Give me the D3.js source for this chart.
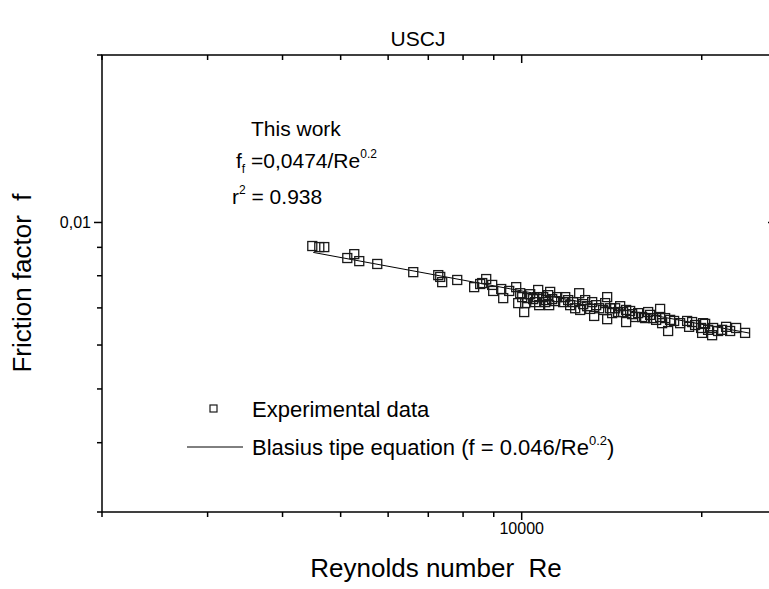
<!DOCTYPE html>
<html>
<head>
<meta charset="utf-8">
<script src="https://cdn.jsdelivr.net/npm/d3@7"></script>
<style>
  html, body { margin: 0; padding: 0; background: #fff; }
  svg { display: block; }
  text { font-family: "Liberation Sans", Arial, sans-serif; fill: #000; }
</style>
</head>
<body>
<svg id="chart" width="769" height="589"></svg>
<script>
// Experimental friction factor measurements (Reynolds number, friction factor)
const reynolds = [
  4484, 4606, 4695, 5129, 5268, 5370, 5754, 6607, 7273, 7328,
  7384, 7822, 8348, 8543, 8610, 8743, 8946, 8981, 9261, 9333,
  9550, 9810, 9962, 10039, 9886, 10155, 10116, 10351, 10471, 10633,
  10674, 10715, 10881, 11092, 11134, 11263, 11482, 11749, 11977, 12208,
  12494, 12303, 12542, 12785, 12882, 13132, 13233, 13490, 13804, 13911,
  13911, 14072, 14344, 14510, 14791, 14962, 14962, 15311, 15488, 15911,
  16281, 16095, 16596, 17047, 17047, 17179, 17715, 17989, 17579, 18909,
  19275, 19055, 20107, 20262, 19953, 20030, 20814, 20893, 21627, 21962,
  22823, 23624, 10233, 10552, 11007, 11177, 10965, 11393, 11840, 12069,
  12688, 13032, 13335, 13699, 14181, 14622, 15193, 15668, 16406, 16788,
  17378, 18408, 19498, 20496, 21297, 22303
];
const friction = [
  0.00905, 0.00901, 0.00901, 0.00861, 0.00875, 0.00850, 0.00840, 0.00812, 0.00802, 0.00796,
  0.00779, 0.00786, 0.00763, 0.00773, 0.00776, 0.00789, 0.00770, 0.00751, 0.00757, 0.00729,
  0.00751, 0.00763, 0.00744, 0.00732, 0.00714, 0.00714, 0.00688, 0.00741, 0.00726, 0.00732,
  0.00754, 0.00708, 0.00732, 0.00738, 0.00708, 0.00726, 0.00732, 0.00717, 0.00723, 0.00717,
  0.00744, 0.00699, 0.00694, 0.00723, 0.00705, 0.00717, 0.00677, 0.00699, 0.00714, 0.00732,
  0.00668, 0.00699, 0.00699, 0.00688, 0.00688, 0.00694, 0.00660, 0.00682, 0.00674, 0.00674,
  0.00688, 0.00671, 0.00671, 0.00697, 0.00674, 0.00657, 0.00666, 0.00663, 0.00636, 0.00663,
  0.00660, 0.00647, 0.00657, 0.00655, 0.00644, 0.00631, 0.00625, 0.00644, 0.00639, 0.00647,
  0.00644, 0.00631, 0.00729, 0.00717, 0.00723, 0.00748, 0.00717, 0.00720, 0.00732, 0.00708,
  0.00711, 0.00697, 0.00708, 0.00694, 0.00685, 0.00705, 0.00691, 0.00685, 0.00680, 0.00666,
  0.00671, 0.00657, 0.00652, 0.00639, 0.00636, 0.00636
];

// Power-law fit of this work: f = a / Re^b, drawn between two Reynolds numbers
const fitCoef = 0.0474;
const fitExp = 0.2;
const fitRange = [4500, 24000];

// Axis ticks
const xMajorTicks = [10000];
const xMinorTicks = [2000, 3000, 4000, 5000, 6000, 7000, 8000, 9000, 20000];
const xTickLabels = ["10000"];
const yMajorTicks = [0.01];
const yMinorTicks = [0.003, 0.004, 0.005, 0.006, 0.007, 0.008, 0.009, 0.02];
const yTickLabels = ["0,01"];

const svg = d3.select("#chart");
const plotL = 102, plotR = 776, plotT = 55, plotB = 512;

const x = d3.scaleLog().domain([2000, 26600]).range([plotL, plotR]);
const y = d3.scaleLog().domain([0.003, 0.02]).range([plotB, plotT]);

const axisStroke = 1.5;
const fontFamily = "Liberation Sans, Arial, sans-serif";

// Frame
svg.append("rect")
  .attr("x", plotL).attr("y", plotT)
  .attr("width", plotR - plotL).attr("height", plotB - plotT)
  .attr("fill", "none").attr("stroke", "#000").attr("stroke-width", axisStroke);

// Bottom axis: outward ticks
const bottomAxis = svg.append("g").attr("transform", `translate(0,${plotB})`);
bottomAxis.call(d3.axisBottom(x).tickValues(xMajorTicks).tickSize(8).tickPadding(3)
  .tickFormat((d, i) => xTickLabels[i]));
bottomAxis.call(g => g.select(".domain").remove());
bottomAxis.selectAll(".tick line").attr("stroke-width", axisStroke);
bottomAxis.selectAll(".tick text").attr("font-size", 16).attr("font-family", fontFamily);
bottomAxis.selectAll(".minor").data(xMinorTicks).enter().append("line")
  .attr("class", "minor")
  .attr("x1", d => x(d)).attr("x2", d => x(d))
  .attr("y1", 0).attr("y2", 5)
  .attr("stroke", "#000").attr("stroke-width", axisStroke);

// Top axis: inward ticks
const topAxis = svg.append("g").attr("transform", `translate(0,${plotT})`);
topAxis.call(d3.axisBottom(x).tickValues(xMajorTicks).tickSize(8).tickFormat(""));
topAxis.call(g => g.select(".domain").remove());
topAxis.selectAll(".tick line").attr("stroke-width", axisStroke);
topAxis.selectAll(".minor").data(xMinorTicks).enter().append("line")
  .attr("class", "minor")
  .attr("x1", d => x(d)).attr("x2", d => x(d))
  .attr("y1", 0).attr("y2", 5)
  .attr("stroke", "#000").attr("stroke-width", axisStroke);

// Left axis: outward ticks
const leftAxis = svg.append("g").attr("transform", `translate(${plotL},0)`);
leftAxis.call(d3.axisLeft(y).tickValues(yMajorTicks).tickSize(8).tickPadding(3)
  .tickFormat((d, i) => yTickLabels[i]));
leftAxis.call(g => g.select(".domain").remove());
leftAxis.selectAll(".tick line").attr("stroke-width", axisStroke);
leftAxis.selectAll(".tick text").attr("font-size", 16).attr("font-family", fontFamily);
leftAxis.selectAll(".minor").data(yMinorTicks).enter().append("line")
  .attr("class", "minor")
  .attr("y1", d => y(d)).attr("y2", d => y(d))
  .attr("x1", 0).attr("x2", -5)
  .attr("stroke", "#000").attr("stroke-width", axisStroke);

// Right axis: inward ticks
const rightAxis = svg.append("g").attr("transform", `translate(${plotR},0)`);
rightAxis.call(d3.axisRight(y).tickValues(yMajorTicks).tickSize(-8).tickFormat(""));
rightAxis.call(g => g.select(".domain").remove());
rightAxis.selectAll(".tick line").attr("stroke-width", axisStroke);

// Fit line
const fitLine = d3.line().x(d => x(d)).y(d => y(fitCoef / Math.pow(d, fitExp)));
svg.append("path")
  .datum(fitRange)
  .attr("d", fitLine)
  .attr("fill", "none").attr("stroke", "#000").attr("stroke-width", 1);

// Experimental points as open squares
const ms = 9;
svg.append("g").selectAll("rect")
  .data(reynolds.map((r, i) => [r, friction[i]]))
  .enter().append("rect")
  .attr("x", d => x(d[0]) - ms / 2)
  .attr("y", d => y(d[1]) - ms / 2)
  .attr("width", ms).attr("height", ms)
  .attr("fill", "none")
  .attr("stroke", "#1a1a1a").attr("stroke-width", 1.3);

// Title
svg.append("text").attr("x", 418).attr("y", 46)
  .attr("text-anchor", "middle").attr("font-size", 21).text("USCJ");

// Axis titles
svg.append("text").attr("x", 436).attr("y", 577)
  .attr("text-anchor", "middle").attr("font-size", 26)
  .attr("xml:space", "preserve").text("Reynolds number  Re");
svg.append("text")
  .attr("transform", "translate(31,283) rotate(-90)")
  .attr("text-anchor", "middle").attr("font-size", 26)
  .attr("xml:space", "preserve").text("Friction factor  f");

// Fit annotation
svg.append("text").attr("x", 251).attr("y", 136).attr("font-size", 21).text("This work");
const eq = svg.append("text").attr("x", 236).attr("y", 168).attr("font-size", 21);
eq.append("tspan").text("f");
eq.append("tspan").attr("font-size", 12).attr("dy", 5).text("f");
eq.append("tspan").attr("dy", -5).text(" =0,0474/Re");
eq.append("tspan").attr("font-size", 12).attr("dy", -10).text("0.2");
const r2 = svg.append("text").attr("x", 232).attr("y", 204).attr("font-size", 21);
r2.append("tspan").text("r");
r2.append("tspan").attr("font-size", 12).attr("dy", -10).text("2");
r2.append("tspan").attr("dy", 10).text(" = 0.938");

// Legend
svg.append("rect").attr("x", 210).attr("y", 405).attr("width", 7).attr("height", 7)
  .attr("fill", "none").attr("stroke", "#1a1a1a").attr("stroke-width", 1.2);
svg.append("text").attr("x", 252).attr("y", 417).attr("font-size", 22).text("Experimental data");
svg.append("line").attr("x1", 187).attr("x2", 243).attr("y1", 447).attr("y2", 447)
  .attr("stroke", "#000").attr("stroke-width", 1);
const lg = svg.append("text").attr("x", 252).attr("y", 455).attr("font-size", 22);
lg.append("tspan").text("Blasius tipe equation (f = 0.046/Re");
lg.append("tspan").attr("font-size", 13).attr("dy", -10).text("0.2");
lg.append("tspan").attr("dy", 10).text(")");
</script>
</body>
</html>
